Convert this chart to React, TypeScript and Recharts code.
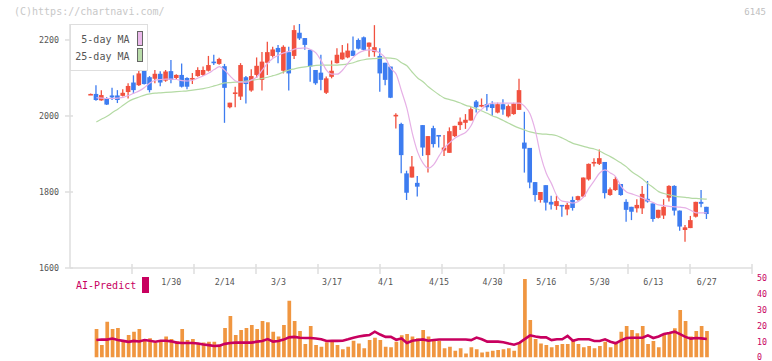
import { ComposedChart, Bar, Line, XAxis, YAxis } from 'recharts'

const dates = [
  '1/8', '1/9', '1/10', '1/14', '1/15', '1/16', '1/17', '1/20', '1/21', '1/22',
  '1/23', '1/24', '1/27', '1/28', '1/29', '1/30', '1/31', '2/3', '2/4', '2/5',
  '2/6', '2/7', '2/10', '2/12', '2/13', '2/14', '2/17', '2/18', '2/19', '2/20',
  '2/21', '2/25', '2/26', '2/27', '2/28', '3/3', '3/4', '3/5', '3/6', '3/7',
  '3/10', '3/11', '3/12', '3/13', '3/14', '3/17', '3/18', '3/19', '3/21', '3/24',
  '3/25', '3/26', '3/27', '3/28', '3/31', '4/1', '4/2', '4/3', '4/4', '4/7',
  '4/8', '4/9', '4/10', '4/11', '4/14', '4/15', '4/16', '4/17', '4/18', '4/21',
  '4/22', '4/23', '4/24', '4/25', '4/28', '4/30', '5/1', '5/2', '5/7', '5/8',
  '5/9', '5/12', '5/13', '5/14', '5/15', '5/16', '5/19', '5/20', '5/21', '5/22',
  '5/23', '5/26', '5/27', '5/28', '5/29', '5/30', '6/2', '6/3', '6/4', '6/5',
  '6/6', '6/9', '6/10', '6/11', '6/12', '6/13', '6/16', '6/17', '6/18', '6/19',
  '6/20', '6/23', '6/24', '6/25', '6/26', '6/27',
]

const opens = [
  2057, 2058, 2041, 2047, 2054, 2054, 2053, 2063, 2088, 2081,
  2121, 2102, 2098, 2111, 2093, 2118, 2100, 2108, 2100, 2098,
  2105, 2108, 2119, 2143, 2137, 2131, 2023, 2060, 2051, 2102,
  2067, 2108, 2095, 2140, 2158, 2179, 2119, 2168, 2158, 2219,
  2205, 2174, 2121, 2114, 2061, 2103, 2139, 2149, 2154, 2172,
  2200, 2207, 2182, 2168, 2158, 2140, 2130, 2000, 1979, 1849,
  1838, 1824, 1976, 1897, 1968, 1950, 1909, 1903, 1947, 1976,
  1982, 1988, 2038, 2028, 2031, 2031, 2009, 2031, 1999, 2005,
  2016, 1930, 1916, 1826, 1779, 1818, 1774, 1763, 1766, 1754,
  1779, 1779, 1788, 1833, 1878, 1874, 1879, 1792, 1805, 1821,
  1774, 1761, 1757, 1757, 1782, 1770, 1732, 1738, 1785, 1816,
  1751, 1700, 1705, 1735, 1774, 1761,
]
const highs = [
  2059, 2081, 2068, 2049, 2074, 2068, 2070, 2086, 2107, 2119,
  2125, 2105, 2121, 2118, 2121, 2147, 2110, 2138, 2102, 2113,
  2128, 2130, 2158, 2161, 2153, 2137, 2035, 2077, 2139, 2105,
  2123, 2154, 2168, 2195, 2182, 2187, 2186, 2182, 2239, 2242,
  2205, 2175, 2121, 2161, 2104, 2146, 2178, 2187, 2191, 2209,
  2204, 2209, 2193, 2239, 2178, 2140, 2130, 2007, 1982, 1856,
  1895, 1842, 1976, 1947, 1974, 1950, 1950, 1970, 1974, 1996,
  2005, 2023, 2042, 2046, 2058, 2039, 2035, 2044, 2030, 2035,
  2098, 2011, 1916, 1826, 1800, 1818, 1790, 1790, 1766, 1772,
  1788, 1790, 1838, 1875, 1889, 1912, 1879, 1812, 1840, 1821,
  1781, 1761, 1781, 1816, 1829, 1770, 1753, 1781, 1818, 1818,
  1751, 1713, 1737, 1774, 1805, 1761,
]
const lows = [
  2056, 2040, 2040, 2029, 2042, 2034, 2051, 2046, 2058, 2079,
  2083, 2062, 2086, 2078, 2090, 2086, 2097, 2075, 2070, 2084,
  2103, 2105, 2117, 2134, 2135, 1982, 2020, 2023, 2042, 2033,
  2064, 2100, 2067, 2108, 2154, 2139, 2112, 2067, 2150, 2200,
  2174, 2090, 2082, 2068, 2058, 2099, 2138, 2148, 2152, 2158,
  2175, 2172, 2156, 2156, 2064, 2081, 2047, 1967, 1849, 1779,
  1838, 1788, 1895, 1851, 1917, 1917, 1895, 1903, 1945, 1963,
  1966, 1988, 2009, 2023, 2014, 2000, 2007, 2003, 1996, 2003,
  2016, 1851, 1810, 1775, 1772, 1751, 1754, 1753, 1735, 1739,
  1751, 1777, 1786, 1830, 1867, 1871, 1783, 1790, 1803, 1790,
  1722, 1726, 1746, 1742, 1772, 1722, 1730, 1729, 1775, 1738,
  1698, 1669, 1705, 1733, 1760, 1729,
]
const closes = [
  2058, 2042, 2055, 2030, 2049, 2042, 2061, 2079, 2068, 2112,
  2084, 2068, 2111, 2088, 2117, 2095, 2108, 2077, 2077, 2100,
  2121, 2121, 2134, 2140, 2150, 2074, 2035, 2062, 2134, 2084,
  2105, 2132, 2143, 2168, 2175, 2168, 2182, 2112, 2226, 2204,
  2187, 2130, 2086, 2095, 2099, 2119, 2161, 2167, 2172, 2158,
  2177, 2174, 2193, 2181, 2112, 2095, 2048, 2003, 1897, 1798,
  1867, 1814, 1917, 1947, 1926, 1948, 1917, 1960, 1974, 1985,
  1990, 2018, 2023, 2029, 2023, 2021, 2031, 2017, 2026, 2033,
  2068, 1914, 1825, 1792, 1800, 1772, 1767, 1776, 1762, 1766,
  1758, 1789, 1838, 1874, 1879, 1889, 1797, 1807, 1834, 1792,
  1753, 1748, 1766, 1795, 1775, 1729, 1753, 1761, 1816, 1751,
  1709, 1707, 1726, 1774, 1769, 1742,
]

const ma5 = [
  null, 2048, 2047, 2046, 2046, 2047, 2049, 2054, 2060, 2066,
  2075, 2087, 2094, 2096, 2097, 2097, 2096, 2093, 2092, 2094,
  2100, 2106, 2113, 2122, 2130, 2120, 2105, 2092, 2089, 2089,
  2095, 2103, 2121, 2139, 2152, 2160, 2166, 2170, 2176, 2178,
  2179, 2175, 2166, 2145, 2120, 2110, 2110, 2121, 2139, 2155,
  2166, 2172, 2174, 2172, 2165, 2152, 2125, 2110, 2065, 2020,
  1955, 1905, 1876, 1863, 1872, 1895, 1916, 1930, 1942, 1950,
  1957, 1975, 2005, 2018, 2030, 2034, 2034, 2034, 2034, 2034,
  2034, 2025, 2005, 1960, 1895, 1850, 1822, 1790, 1776, 1774,
  1771, 1775, 1787, 1810, 1830, 1850, 1858, 1850, 1840, 1815,
  1800, 1795, 1790, 1784, 1778, 1772, 1766, 1764, 1762, 1761,
  1760, 1758, 1752, 1745, 1745, 1745,
]
const ma25 = [
  null, 1984, 1992, 1999, 2009, 2018, 2028, 2038, 2045, 2050,
  2055, 2058, 2060, 2061, 2062, 2063, 2064, 2065, 2066, 2068,
  2070, 2072, 2075, 2079, 2083, 2087, 2088, 2089, 2090, 2092,
  2094, 2096, 2099, 2102, 2106, 2110, 2116, 2121, 2124, 2127,
  2129, 2131, 2133, 2134, 2134, 2134, 2134, 2135, 2137, 2140,
  2145, 2148, 2150, 2151, 2152, 2153, 2152, 2150, 2140, 2132,
  2115, 2100, 2090, 2077, 2066, 2056, 2047, 2043, 2039, 2034,
  2028, 2024, 2019, 2013, 2007, 2000, 1995, 1988, 1981, 1974,
  1968, 1963, 1958, 1955, 1953, 1952, 1951, 1948, 1942, 1935,
  1928, 1924, 1920, 1916, 1913, 1908, 1900, 1893, 1885, 1876,
  1866, 1853, 1844, 1834, 1822, 1812, 1801, 1796, 1792, 1789,
  1787, 1786, 1784, 1783, 1782, 1781,
]

const volume = [
  null, 18.0, 7.9, 22.6, 18.0, 18.6, 11.0, 14.2, 16.3, 18.0,
  11.0, 12.1, 9.4, 11.0, 13.2, 11.7, 10.4, 18.0, 11.0, 11.7,
  8.9, 9.4, 10.0, 10.0, 7.9, 18.6, 26.2, 14.2, 17.4, 18.6,
  20.5, 18.0, 23.0, 22.2, 16.3, 13.2, 20.5, 35.9, 23.0, 16.7,
  8.5, 19.9, 7.9, 6.8, 9.6, 11.0, 7.9, 5.2, 6.8, 10.6,
  8.9, 5.8, 11.0, 12.5, 11.0, 6.8, 6.4, 10.0, 14.0, 14.8,
  13.2, 12.1, 17.4, 13.2, 10.6, 10.6, 5.8, 6.8, 4.3, 5.8,
  2.6, 6.4, 5.2, 3.1, 3.7, 4.3, 4.7, 5.2, 5.8, 4.3,
  9.4, 49.6, 23.7, 11.7, 8.9, 7.9, 6.4, 7.9, 8.5, 8.5,
  10.4, 8.5, 6.4, 7.3, 5.8, 7.3, 10.0, 6.4, 8.9, 16.3,
  19.9, 17.4, 15.3, 19.9, 8.5, 10.4, 6.4, 14.2, 15.7, 18.4,
  30.0, 23.0, 13.2, 16.7, 19.9, 16.7,
]
const aiPredict = [
  null, 11.0, 11.4, 11.3, 12.0, 11.0, 10.5, 9.9, 10.5, 10.1,
  11.0, 10.6, 10.0, 10.6, 10.6, 10.2, 9.4, 9.2, 9.2, 9.2,
  8.8, 8.2, 7.8, 7.3, 7.5, 8.6, 9.2, 9.4, 9.4, 9.4,
  9.4, 10.0, 10.4, 11.6, 10.0, 10.4, 11.3, 12.7, 13.0, 12.5,
  12.3, 12.3, 12.0, 11.5, 10.4, 10.6, 10.5, 10.6, 11.5, 12.5,
  13.2, 13.8, 14.2, 16.3, 14.5, 13.0, 13.0, 11.2, 12.0, 9.2,
  10.6, 11.0, 11.4, 10.6, 11.0, 11.4, 11.4, 11.4, 11.4, 11.4,
  11.4, 11.0, 12.6, 11.5, 10.0, 10.0, 10.0, 9.6, 8.8, 8.1,
  9.2, 11.6, 14.0, 13.2, 12.7, 12.7, 11.0, 11.5, 11.5, 13.6,
  10.6, 11.5, 11.5, 11.5, 10.4, 10.4, 11.5, 10.0, 9.0, 10.8,
  12.3, 12.5, 12.5, 12.5, 14.0, 12.3, 13.3, 14.8, 15.5, 16.3,
  14.8, 13.0, 11.9, 12.3, 12.1, 11.7,
]

const labelDates = ['1/30', '2/14', '3/3', '3/17', '4/1', '4/15', '4/30', '5/16', '5/30', '6/13', '6/27']
const priceTicks = [1600, 1800, 2000, 2200]
const volTicks = [0, 10, 20, 30, 40, 50]

const FONT = '"DejaVu Sans Mono", monospace'
const RED = '#f1513f'
const BLUE = '#3d7cf0'
const PINK = '#e6b0e6'
const GREEN = '#b4daa4'
const ORANGE = '#f09640'
const CRIMSON = '#c8005f'
const AXIS = '#dedede'

// x range in candle index units, so candles sit where the reference puts them
const X_MIN = -3.92
const X_MAX = 123.44
const labelIdx = labelDates.map((d) => dates.indexOf(d))
const gridTicks = Array.from({ length: 11 }, (_, k) =>
  Math.min(X_MAX, X_MIN + ((k + 1) * (X_MAX - X_MIN)) / 11),
)
const xTicks = [...gridTicks, ...labelIdx].sort((a, b) => a - b)

const rows = dates.map((date, i) => ({
  i,
  date,
  open: opens[i],
  high: highs[i],
  low: lows[i],
  close: closes[i],
  range: [lows[i], highs[i]],
  ma5: ma5[i],
  ma25: ma25[i],
  vol: volume[i],
  ai: aiPredict[i],
}))

const Candle = (props: any) => {
  const { x, y, width, height, payload } = props
  if (x == null || y == null || !payload) return null
  const { open, close, high, low } = payload
  const color = close >= open ? RED : BLUE
  const cx = x + width / 2
  const top0 = Math.min(y, y + height)
  const h = Math.abs(height)
  const span = high - low
  const toY = (p: number) => (span === 0 ? top0 : top0 + ((high - p) / span) * h)
  const bTop = toY(Math.max(open, close))
  const bBot = toY(Math.min(open, close))
  const bw = 4.6
  return (
    <g>
      <line x1={cx} x2={cx} y1={top0} y2={top0 + h} stroke={color} strokeWidth={1.3} />
      <rect x={cx - bw / 2} y={bTop} width={bw} height={Math.max(bBot - bTop, 1.6)} fill={color} />
    </g>
  )
}

const XTick = (props: any) => {
  const { x, y, payload } = props
  const v = payload.value
  if (Number.isInteger(v)) {
    return (
      <text x={x} y={y} dy="0.71em" textAnchor="middle" fontSize={8.3} fill="#555" fontFamily={FONT}>
        {dates[v]}
      </text>
    )
  }
  const ay = y - 11
  return <line x1={x} x2={x} y1={ay - 4} y2={ay + 6} stroke={AXIS} strokeWidth={1.5} />
}

const App = (): JSX.Element => {
  return (
    <div
      style={{
        position: 'absolute',
        left: 0,
        top: 0,
        width: 772,
        height: 361,
        overflow: 'hidden',
        background: '#fff',
        fontFamily: FONT,
      }}
    >
      <div style={{ position: 'absolute', left: 0, top: 0 }}>
        <ComposedChart width={772} height={300} data={rows} margin={{ top: 24, right: 20, bottom: 2, left: 0 }}>
          <XAxis
            type="number"
            dataKey="i"
            domain={[X_MIN, X_MAX]}
            allowDataOverflow
            ticks={xTicks}
            interval={0}
            tick={(p: any) => <XTick {...p} />}
            tickLine={false}
            tickSize={6}
            tickMargin={5}
            axisLine={{ stroke: AXIS, strokeWidth: 1.5 }}
            height={30}
          />
          <YAxis
            domain={[1600, 2242]}
            allowDataOverflow
            ticks={priceTicks}
            interval={0}
            width={70}
            tickSize={8}
            tickMargin={3}
            tickLine={{ stroke: AXIS, strokeWidth: 1.5, transform: 'translate(3,0)' }}
            axisLine={{ stroke: AXIS, strokeWidth: 1.5 }}
            tick={{ fontSize: 8.3, fill: '#555', fontFamily: FONT }}
          />
          <Line dataKey="ma25" type="monotone" stroke={GREEN} strokeWidth={1.2} dot={false} isAnimationActive={false} />
          <Line dataKey="ma5" type="monotone" stroke={PINK} strokeWidth={1.2} dot={false} isAnimationActive={false} />
          <Bar dataKey="range" barSize={4.6} shape={(p: any) => <Candle {...p} />} isAnimationActive={false} />
        </ComposedChart>
      </div>

      <div style={{ position: 'absolute', left: 0, top: 0 }}>
        <ComposedChart width={772} height={361} data={rows} margin={{ top: 278.3, right: 0, bottom: 3.5, left: 70 }}>
          <XAxis type="number" dataKey="i" domain={[X_MIN, X_MAX]} allowDataOverflow hide />
          <YAxis
            orientation="right"
            domain={[0, 50]}
            allowDataOverflow
            ticks={volTicks}
            interval={0}
            width={20}
            axisLine={false}
            tickLine={false}
            tickSize={0}
            tickMargin={5}
            tick={{ fontSize: 8.3, fill: CRIMSON, fontFamily: FONT, textAnchor: 'start' }}
          />
          <Bar dataKey="vol" fill={ORANGE} barSize={3.7} isAnimationActive={false} />
          <Line dataKey="ai" type="linear" stroke={CRIMSON} strokeWidth={2.6} dot={false} isAnimationActive={false} />
        </ComposedChart>
      </div>

      <div style={{ position: 'absolute', left: 14, top: 5, fontSize: 10, lineHeight: '14px', color: '#c8c8c8' }}>
        (C)https://chartnavi.com/
      </div>
      <div style={{ position: 'absolute', right: 6, top: 5, fontSize: 9, lineHeight: '14px', color: '#c0c0c0' }}>
        6145
      </div>

      <div
        style={{
          position: 'absolute',
          left: 70,
          top: 24,
          width: 78,
          height: 47,
          boxSizing: 'border-box',
          border: `1.5px solid ${AXIS}`,
          background: '#fff',
        }}
      />
      <div style={{ position: 'absolute', left: 60, width: 69.5, top: 33, textAlign: 'right', fontSize: 10, lineHeight: '14px', color: '#555' }}>
        5-day MA
      </div>
      <div style={{ position: 'absolute', left: 60, width: 69.5, top: 50, textAlign: 'right', fontSize: 10, lineHeight: '14px', color: '#555' }}>
        25-day MA
      </div>
      <div style={{ position: 'absolute', left: 136.5, top: 31, width: 6.5, height: 14.5, boxSizing: 'border-box', border: '1px solid #666', background: '#ebb9eb' }} />
      <div style={{ position: 'absolute', left: 136.5, top: 48.3, width: 6.5, height: 14, boxSizing: 'border-box', border: '1px solid #666', background: '#b9dcaa' }} />

      <div style={{ position: 'absolute', left: 76, top: 279, fontSize: 10, lineHeight: '14px', color: CRIMSON }}>
        AI-Predict
      </div>
      <div style={{ position: 'absolute', left: 142.3, top: 277, width: 7, height: 16, background: CRIMSON }} />
    </div>
  )
}

export default App
